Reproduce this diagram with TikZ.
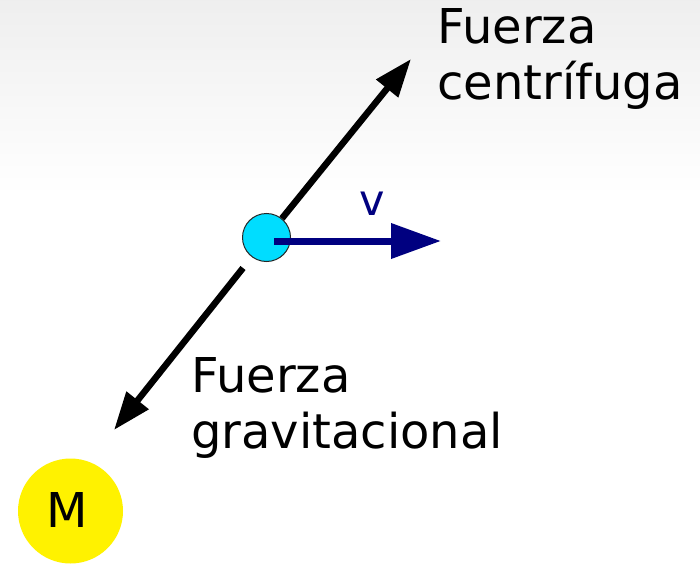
\documentclass[tikz,border=0pt]{standalone}
\usepackage{fontspec}
\setmainfont{DejaVu Sans}
\usetikzlibrary{arrows.meta}
\definecolor{cyanball}{HTML}{00DDFF}
\definecolor{navyv}{HTML}{000080}
\tikzset{
  lbl/.style={anchor=base west, inner sep=0pt, font=\fontsize{48}{56}\selectfont, align=left},
  force/.style={line width=6.5pt, draw=black, -{Triangle[length=38pt, width=27pt]}},
  vel/.style={line width=7pt, draw=navyv, -{Triangle[length=50pt, width=34pt]}},
}
\begin{document}
\begin{tikzpicture}[x=1pt, y=-1pt]
\useasboundingbox (0,0) rectangle (700,564);
\fill[white] (0,0) rectangle (700,564);
\shade[top color=gray!13, bottom color=white] (0,0) rectangle (700,195);
% mass M
\node[circle, fill=yellow, minimum size=105pt, inner sep=0pt] (M) at (70.5,511) {};
\node[inner sep=0pt, font=\fontsize{48}{56}\selectfont] (Mlbl) at (67,510) {M};
% coordinates
\coordinate (ctip) at (411,59);
\coordinate (gstart) at (243,268);
\coordinate (gtip) at (114,430);
\coordinate (vtip) at (441,241);
\coordinate (vstart) at (274,241);
% ball
\node[circle, fill=cyanball, draw=black!85, line width=1pt, minimum size=48pt, inner sep=0pt] (ball) at (266.5,237.5) {};
\draw[force] (ball) -- (ctip);
\draw[force] (gstart) -- (gtip);
\draw[vel] (vstart) -- (vtip);
% labels
\node[lbl] (cf) at (437,100) {Fuerza\\centrífuga};
\node[lbl] (gf) at (191,448) {Fuerza\\gravitacional};
\node[inner sep=0pt, anchor=base, text=navyv, font=\fontsize{43}{50}\selectfont] (v) at (372,215) {v};
\end{tikzpicture}
\end{document}
